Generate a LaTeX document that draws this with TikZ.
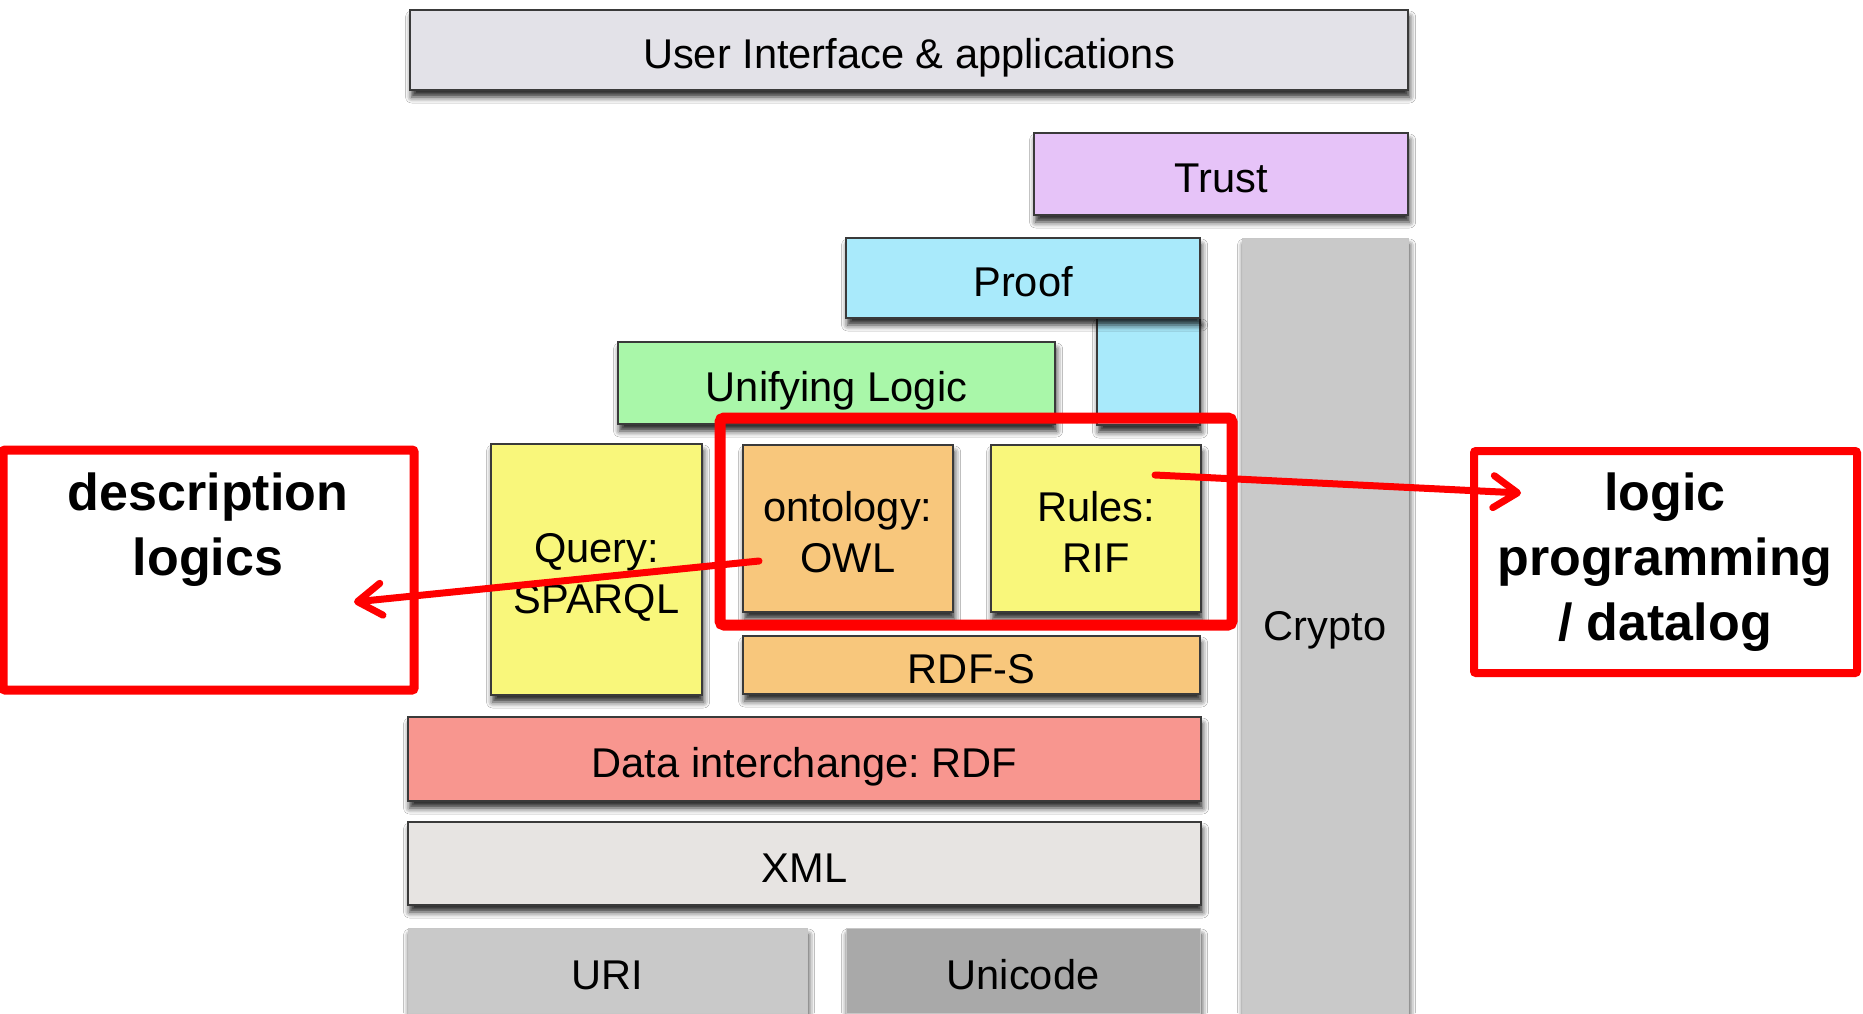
\documentclass[tikz,border=0pt]{standalone}
\usepackage{fontspec}
\setmainfont{Liberation Sans}
\frenchspacing
\usetikzlibrary{shadows.blur,arrows.meta}
\definecolor{uicol}{HTML}{E3E2E8}
\definecolor{trustcol}{HTML}{E6C3F8}
\definecolor{proofcol}{HTML}{A9EAFB}
\definecolor{unifcol}{HTML}{A9F7A9}
\definecolor{yelcol}{HTML}{F9F77B}
\definecolor{orgcol}{HTML}{F8C77C}
\definecolor{rdfcol}{HTML}{F8968F}
\definecolor{xmlcol}{HTML}{E7E4E2}
\definecolor{uricol}{HTML}{C9C9C9}
\definecolor{unicol}{HTML}{A9A9A9}
\definecolor{cryptocol}{HTML}{C9C9C9}
\definecolor{edgecol}{HTML}{3A3A3A}
\newsavebox\liftbox
\newcommand\lift[1]{\sbox\liftbox{\begin{tabular}{@{}c@{}}#1\end{tabular}}\raisebox{-4.2pt}[\ht\liftbox][\dp\liftbox]{\usebox\liftbox}}
\tikzset{
  x=0.5pt, y=-0.5pt,
  spanbox/.style n args={4}{minimum width={(#2-#1)*0.5pt}, minimum height={(#4-#3)*0.5pt}, at={({(#1+#2)/2},{(#3+#4)/2})}},
  layer/.style={draw=edgecol, line width=0.9pt, inner sep=0pt, outer sep=0pt, align=center,
    font=\fontsize{20.8}{25.5}\selectfont,
    blur shadow={shadow xshift=0.8pt, shadow yshift=-3.5pt, shadow blur radius=3pt, shadow opacity=85}},
  softlayer/.style={layer, draw=black!22, line width=0.5pt},
  redframe/.style={draw=red, line width=5.5pt, rounded corners=2pt, inner sep=0pt, outer sep=0pt},
  notebox/.style={draw=red, line width=4.5pt, rounded corners=1pt, inner sep=0pt, outer sep=0pt, fill=white},
  notetext/.style={align=center, font=\fontsize{26}{32.5}\selectfont\bfseries, inner sep=0pt},
  redarrow/.style={draw=red, line width=3.5pt, line cap=round,
    -{Straight Barb[length=12pt, width=16pt, line width=3.5pt, round]}}
}
\begin{document}
\begin{tikzpicture}
\fill[white] (0,0) rectangle (1863,1013);
\useasboundingbox (0,0) rectangle (1863,1013);
% layers
\node[softlayer, fill=cryptocol, spanbox={1242}{1408}{238}{1030}] (crypto) {};
\node[font=\fontsize{20.8}{25.5}\selectfont] (cryptotext) at (1325,630) {Crypto};
\node[softlayer, fill=uricol, spanbox={408}{807}{928}{1013}] (uri) {\lift{URI}};
\node[softlayer, fill=unicol, spanbox={846}{1200}{928}{1013}] (unicode) {\lift{Unicode}};
\node[layer, fill=xmlcol, spanbox={408}{1201}{822}{905}] (xml) {\lift{XML}};
\node[layer, fill=rdfcol, spanbox={408}{1201}{717}{801}] (rdf) {\lift{Data interchange: RDF}};
\node[layer, fill=orgcol, spanbox={743}{1200}{636}{694}] (rdfs) {\lift{RDF-S}};
\node[layer, fill=yelcol, spanbox={491}{702}{444}{695}] (query) {\lift{Query:\\SPARQL}};
\node[layer, fill=orgcol, spanbox={743}{953}{445}{612}] (owl) {\lift{ontology:\\OWL}};
\node[layer, fill=yelcol, spanbox={991}{1201}{445}{612}] (rules) {\lift{Rules:\\RIF}};
\node[layer, fill=unifcol, spanbox={618}{1055}{342}{424}] (unif) {\lift{Unifying Logic}};
\node[layer, fill=proofcol, spanbox={1097}{1200}{318}{425}] (proofleg) {};
\node[layer, fill=proofcol, spanbox={846}{1200}{238}{318}] (proof) {\lift{Proof}};
\node[layer, fill=trustcol, spanbox={1034}{1408}{133}{215}] (trust) {\lift{Trust}};
\node[layer, fill=uicol, spanbox={410}{1408}{10}{90}] (ui) {\lift{User Interface \& applications}};
% red frame
\node[redframe, spanbox={720}{1232}{418}{625}] (frame) {};
% note boxes
\node[notebox, spanbox={3}{414}{450}{690}] (dlbox) {};
\node[notetext] (dltext) at (208,530) {description\\logics};
\node[notebox, line width=4pt, spanbox={1474}{1857}{451}{673}] (lpbox) {};
\node[notetext] (lptext) at (1665,562) {logic\\programming\\/ datalog};
% arrows
\coordinate (rulesin) at (1155,475);
\coordinate (lptip) at (1521,493);
\coordinate (owlin) at (759,561);
\coordinate (dltip) at (354,602);
\draw[redarrow] (rulesin) -- (lptip);
\draw[redarrow] (owlin) -- (dltip);
\end{tikzpicture}
\end{document}
